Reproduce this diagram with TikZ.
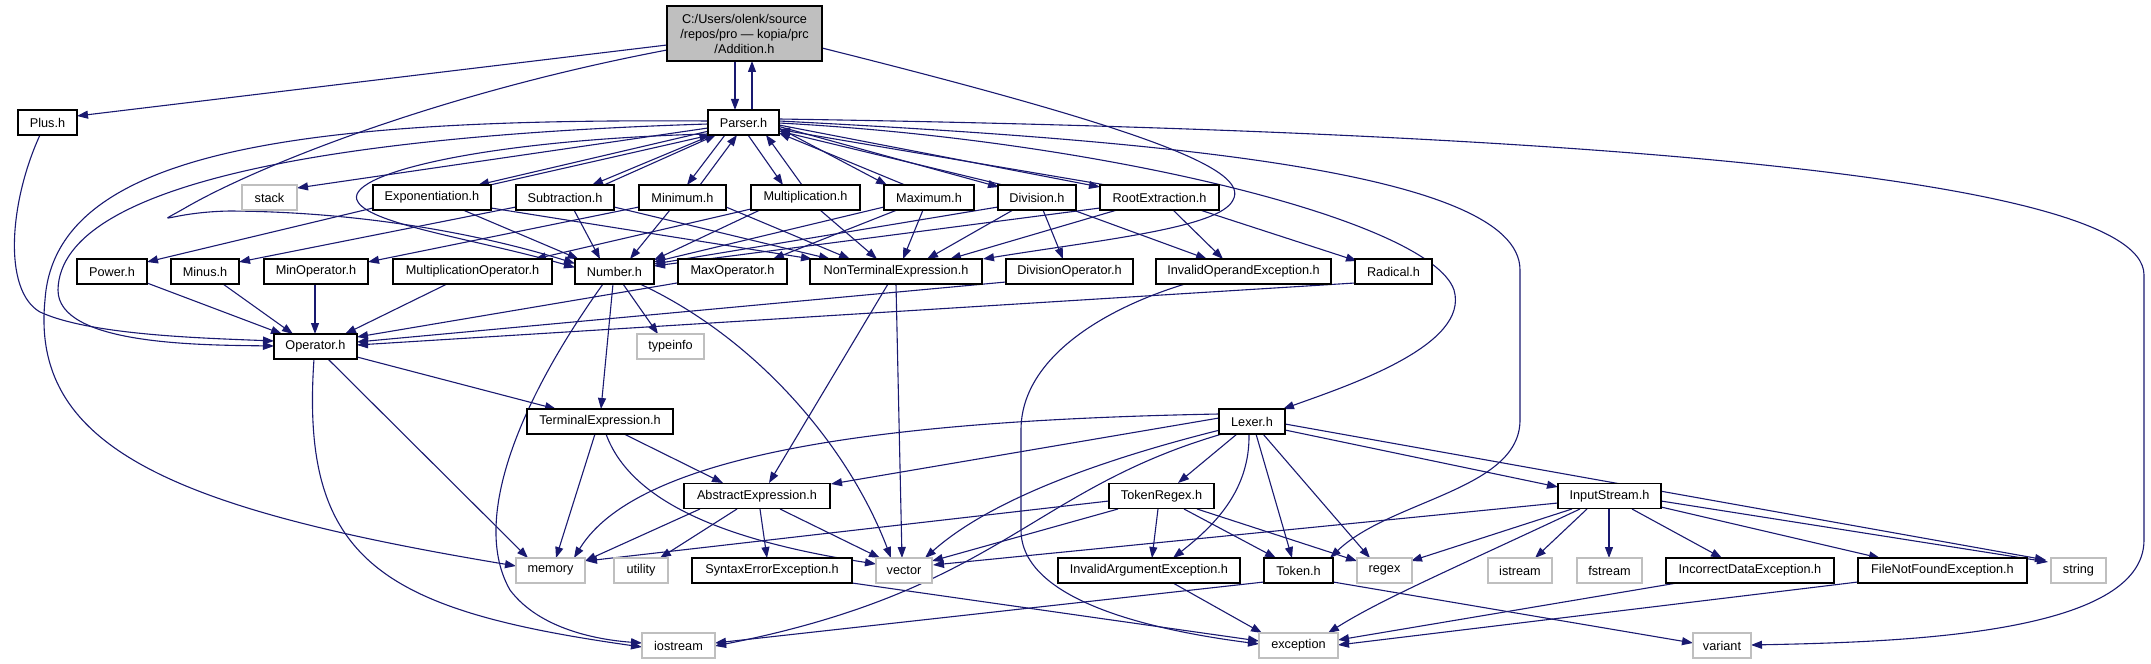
\documentclass[tikz,border=0pt]{standalone}
\usepackage{fontspec}
\setmainfont{Liberation Sans}
\usetikzlibrary{arrows.meta}
\definecolor{edgeblue}{HTML}{191970}
\definecolor{sysborder}{HTML}{BFBFBF}
\definecolor{mainfill}{HTML}{BFBFBF}
\newcommand\nodefnt{\fontsize{12.7bp}{15bp}\selectfont}
\pgfdeclarelayer{bg}
\pgfsetlayers{bg,main}
\tikzset{
  hdr/.style={draw=black, line width=1.2bp, fill=white, minimum height=25bp, inner sep=0pt, font=\nodefnt},
  sys/.style={hdr, draw=sysborder},
  mainhdr/.style={hdr, fill=mainfill, minimum height=55bp, align=center},
  dep/.style={draw=edgeblue, line width=1.1bp, -{Triangle[length=11bp,width=8bp]}}
}
\begin{document}
\begin{tikzpicture}[x=1bp,y=-1bp]
\useasboundingbox (0,0) rectangle (2151,664);
% row A/B
\node[mainhdr, minimum width=155bp] (add) at (744.5,33.5) {C:/Users/olenk/source\\/repos/pro — kopia/prc\\/Addition.h};
\node[hdr, minimum width=59bp] (plus) at (47.5,122.5) {Plus.h};
\node[hdr, minimum width=71bp] (parser) at (743.5,122.5) {Parser.h};
% row C
\node[sys, minimum width=55bp] (stack) at (269.5,197.5) {stack};
\node[hdr, minimum width=118bp] (expo) at (432,197.5) {Exponentiation.h};
\node[hdr, minimum width=98bp] (sub) at (565,197.5) {Subtraction.h};
\node[hdr, minimum width=87bp] (mini) at (682.5,197.5) {Minimum.h};
\node[hdr, minimum width=109bp] (mult) at (805.5,197.5) {Multiplication.h};
\node[hdr, minimum width=90bp] (maxi) at (929,197.5) {Maximum.h};
\node[hdr, minimum width=78bp] (divi) at (1037,197.5) {Division.h};
\node[hdr, minimum width=119bp] (root) at (1159.5,197.5) {RootExtraction.h};
% row D
\node[hdr, minimum width=70bp] (power) at (112,271.5) {Power.h};
\node[hdr, minimum width=68bp] (minus) at (205,271.5) {Minus.h};
\node[hdr, minimum width=104bp] (minop) at (316,271.5) {MinOperator.h};
\node[hdr, minimum width=159bp] (multop) at (472.5,271.5) {MultiplicationOperator.h};
\node[hdr, minimum width=79bp] (number) at (614.5,271.5) {Number.h};
\node[hdr, minimum width=109bp] (maxop) at (732.5,271.5) {MaxOperator.h};
\node[hdr, minimum width=172bp] (nonterm) at (896,271.5) {NonTerminalExpression.h};
\node[hdr, minimum width=127bp] (divop) at (1069.5,271.5) {DivisionOperator.h};
\node[hdr, minimum width=175bp] (invop) at (1243.5,271.5) {InvalidOperandException.h};
\node[hdr, minimum width=77bp] (radical) at (1393.5,271.5) {Radical.h};
% row E/F
\node[hdr, minimum width=83bp] (oper) at (315.5,346.5) {Operator.h};
\node[sys, minimum width=67bp] (typeinfo) at (670.5,346.5) {typeinfo};
\node[hdr, minimum width=146bp] (term) at (600,421.5) {TerminalExpression.h};
\node[hdr, minimum width=66bp] (lexer) at (1252,421.5) {Lexer.h};
% row G
\node[hdr, minimum width=146bp] (abstr) at (757,496) {AbstractExpression.h};
\node[hdr, minimum width=105bp] (tokre) at (1161.5,496) {TokenRegex.h};
\node[hdr, minimum width=103bp] (input) at (1609.5,496) {InputStream.h};
% row H
\node[sys, minimum width=69bp] (memory) at (550.5,570.5) {memory};
\node[sys, minimum width=54bp] (utility) at (641,570.5) {utility};
\node[hdr, minimum width=160bp] (syntax) at (772,570.5) {SyntaxErrorException.h};
\node[sys, minimum width=56bp] (vector) at (904,570.5) {vector};
\node[hdr, minimum width=182bp] (invarg) at (1149,570.5) {InvalidArgumentException.h};
\node[hdr, minimum width=69bp] (token) at (1298.5,570.5) {Token.h};
\node[sys, minimum width=55bp] (regex) at (1384.5,570.5) {regex};
\node[sys, minimum width=64bp] (istream) at (1520,570.5) {istream};
\node[sys, minimum width=65bp] (fstream) at (1609.5,570.5) {fstream};
\node[hdr, minimum width=168bp] (incorr) at (1750,570.5) {IncorrectDataException.h};
\node[hdr, minimum width=169bp] (filenf) at (1942.5,570.5) {FileNotFoundException.h};
\node[sys, minimum width=55bp] (string) at (2078.5,570.5) {string};
% row I
\node[sys, minimum width=73bp] (iostream) at (678.5,645.5) {iostream};
\node[sys, minimum width=79bp] (exception) at (1298.5,645.5) {exception};
\node[sys, minimum width=58bp] (variant) at (1722,645.5) {variant};

\begin{pgfonlayer}{bg}
% Addition.h
\draw[dep] ([shift={(-77.5,11.5)}]add.center) -- ([shift={(29.5,-6.5)}]plus.center);
\draw[dep] ([shift={(-77.5,16.5)}]add.center) .. controls (430,95) and (250,170) .. (185,208) .. controls (150,228) and (170,212) .. (230,211) .. controls (380,212) and (500,240) .. ([shift={(-39.5,-8)}]number.center);
\draw[dep] ([shift={(-9.5,27.5)}]add.center) -- ([shift={(-8.5,-12.5)}]parser.center);
\draw[dep] ([shift={(8.5,-12.5)}]parser.center) -- ([shift={(7.5,27.5)}]add.center);
\draw[dep] ([shift={(77.5,14.5)}]add.center) .. controls (1150,130) and (1250,170) .. (1233,200) .. controls (1220,228) and (1100,240) .. ([shift={(87,-12.5)}]nonterm.center);
% Parser.h
\draw[dep] ([shift={(-35.5,5.5)}]parser.center) -- ([shift={(27.5,-9.5)}]stack.center);
\draw[dep] ([shift={(-35.5,-1.5)}]parser.center) .. controls (300,118) and (55,150) .. (45,300) .. controls (30,450) and (180,510) .. ([shift={(-34.5,-4.5)}]memory.center);
\draw[dep] ([shift={(-35.5,1.5)}]parser.center) .. controls (350,135) and (60,180) .. (58,290) .. controls (58,345) and (200,345) .. ([shift={(-41.5,-0.5)}]oper.center);
\draw[dep] ([shift={(-35.5,11.5)}]parser.center) .. controls (480,140) and (340,175) .. (358,202) .. controls (372,225) and (480,240) .. ([shift={(-39.5,-4)}]number.center);
\draw[dep] ([shift={(-34.5,8.5)}]parser.center) -- ([shift={(46,-12.5)}]expo.center);
\draw[dep] ([shift={(58,-12.5)}]expo.center) -- ([shift={(-33,12.5)}]parser.center);
\draw[dep] ([shift={(-31.5,12.5)}]parser.center) -- ([shift={(27,-12.5)}]sub.center);
\draw[dep] ([shift={(39,-12.5)}]sub.center) -- ([shift={(-27.5,12.5)}]parser.center);
\draw[dep] ([shift={(-18.5,12.5)}]parser.center) -- ([shift={(4.5,-12.5)}]mini.center);
\draw[dep] ([shift={(17.5,-12.5)}]mini.center) -- ([shift={(-6.5,12.5)}]parser.center);
\draw[dep] ([shift={(4.5,12.5)}]parser.center) -- ([shift={(-22.5,-12.5)}]mult.center);
\draw[dep] ([shift={(-3.5,-12.5)}]mult.center) -- ([shift={(22.5,12.5)}]parser.center);
\draw[dep] ([shift={(35.5,5.5)}]parser.center) -- ([shift={(-42,-12.5)}]maxi.center);
\draw[dep] ([shift={(-24,-12.5)}]maxi.center) -- ([shift={(35.5,10.5)}]parser.center);
\draw[dep] ([shift={(35.5,4)}]parser.center) -- ([shift={(-38,-10.5)}]divi.center);
\draw[dep] ([shift={(-34,-12.5)}]divi.center) -- ([shift={(35.5,8.5)}]parser.center);
\draw[dep] ([shift={(35.5,2.5)}]parser.center) -- ([shift={(-59.5,-10.5)}]root.center);
\draw[dep] ([shift={(-53.5,-12.5)}]root.center) -- ([shift={(35.5,7)}]parser.center);
\draw[dep] ([shift={(35.5,-3.5)}]parser.center) .. controls (1500,130) and (2144,170) .. (2144,275) -- (2144,540) .. controls (2144,635) and (1900,642) .. ([shift={(29,-0.5)}]variant.center);
\draw[dep] ([shift={(35.5,-1.5)}]parser.center) .. controls (1150,140) and (1520,170) .. (1520,270) -- (1520,420) .. controls (1520,490) and (1390,500) .. ([shift={(31.5,-12.5)}]token.center);
\draw[dep] ([shift={(35.5,0.5)}]parser.center) .. controls (1100,140) and (1430,220) .. (1454,290) .. controls (1470,345) and (1350,385) .. ([shift={(31,-12.5)}]lexer.center);
% row C children
\draw[dep] ([shift={(31,12.5)}]expo.center) -- ([shift={(-36,-12.5)}]number.center);
\draw[dep] ([shift={(59,10.5)}]expo.center) -- ([shift={(-84,-12.5)}]nonterm.center);
\draw[dep] ([shift={(-59,10.5)}]expo.center) -- ([shift={(35,-9.5)}]power.center);
\draw[dep] ([shift={(9,12.5)}]sub.center) -- ([shift={(-14.5,-12.5)}]number.center);
\draw[dep] ([shift={(49,9.5)}]sub.center) -- ([shift={(-66,-12.5)}]nonterm.center);
\draw[dep] ([shift={(-49,9.5)}]sub.center) -- ([shift={(34,-9.5)}]minus.center);
\draw[dep] ([shift={(-12.5,12.5)}]mini.center) -- ([shift={(15.5,-12.5)}]number.center);
\draw[dep] ([shift={(43.5,9.5)}]mini.center) -- ([shift={(-46,-12.5)}]nonterm.center);
\draw[dep] ([shift={(-43.5,9.5)}]mini.center) -- ([shift={(52,-9.5)}]minop.center);
\draw[dep] ([shift={(-45.5,12.5)}]mult.center) -- ([shift={(39.5,-11.5)}]number.center);
\draw[dep] ([shift={(14.5,12.5)}]mult.center) -- ([shift={(-19,-12.5)}]nonterm.center);
\draw[dep] ([shift={(-54.5,11.5)}]mult.center) -- ([shift={(62.5,-12.5)}]multop.center);
\draw[dep] ([shift={(-45,9.5)}]maxi.center) -- ([shift={(39.5,-9.5)}]number.center);
\draw[dep] ([shift={(-6,12.5)}]maxi.center) -- ([shift={(7,-12.5)}]nonterm.center);
\draw[dep] ([shift={(-32,12.5)}]maxi.center) -- ([shift={(40.5,-12.5)}]maxop.center);
\draw[dep] ([shift={(-39,9.5)}]divi.center) -- ([shift={(39.5,-7.5)}]number.center);
\draw[dep] ([shift={(-24,12.5)}]divi.center) -- ([shift={(31,-12.5)}]nonterm.center);
\draw[dep] ([shift={(6,12.5)}]divi.center) -- ([shift={(-6.5,-12.5)}]divop.center);
\draw[dep] ([shift={(36,12.5)}]divi.center) -- ([shift={(-36.5,-12.5)}]invop.center);
\draw[dep] ([shift={(-59.5,10.5)}]root.center) -- ([shift={(39.5,-5.5)}]number.center);
\draw[dep] ([shift={(-42.5,12.5)}]root.center) -- ([shift={(54,-12.5)}]nonterm.center);
\draw[dep] ([shift={(13.5,12.5)}]root.center) -- ([shift={(-20.5,-12.5)}]invop.center);
\draw[dep] ([shift={(40.5,12.5)}]root.center) -- ([shift={(-36.5,-10.5)}]radical.center);
% operators
\draw[dep] ([shift={(-7.5,12.5)}]plus.center) .. controls (10,200) and (2,290) .. (40,312) .. controls (90,335) and (200,338) .. ([shift={(-41.5,-5.5)}]oper.center);
\draw[dep] ([shift={(35,11.5)}]power.center) -- ([shift={(-33.5,-12.5)}]oper.center);
\draw[dep] ([shift={(18,12.5)}]minus.center) -- ([shift={(-22.5,-12.5)}]oper.center);
\draw[dep] ([shift={(-1,12.5)}]minop.center) -- ([shift={(-0.5,-12.5)}]oper.center);
\draw[dep] ([shift={(-25.5,12.5)}]multop.center) -- ([shift={(29.5,-12.5)}]oper.center);
\draw[dep] ([shift={(-55.5,11.5)}]maxop.center) -- ([shift={(41.5,-9.5)}]oper.center);
\draw[dep] ([shift={(-63.5,10.5)}]divop.center) -- ([shift={(41.5,-4.5)}]oper.center);
\draw[dep] ([shift={(-38.5,11.5)}]radical.center) -- ([shift={(41.5,-1.5)}]oper.center);
% Number.h, Operator.h
\draw[dep] ([shift={(-1.5,12.5)}]number.center) -- ([shift={(1,-12.5)}]term.center);
\draw[dep] ([shift={(8.5,12.5)}]number.center) -- ([shift={(-12.5,-12.5)}]typeinfo.center);
\draw[dep] ([shift={(-11.5,12.5)}]number.center) .. controls (520,400) and (470,520) .. (510,590) .. controls (540,630) and (600,640) .. ([shift={(-36.5,-2.5)}]iostream.center);
\draw[dep] ([shift={(25.5,12.5)}]number.center) .. controls (760,340) and (850,450) .. ([shift={(-13,-12.5)}]vector.center);
\draw[dep] ([shift={(41.5,10.5)}]oper.center) -- ([shift={(-44,-12.5)}]term.center);
\draw[dep] ([shift={(12.5,12.5)}]oper.center) -- ([shift={(-22.5,-12.5)}]memory.center);
\draw[dep] ([shift={(-1.5,12.5)}]oper.center) .. controls (300,560) and (380,610) .. ([shift={(-36.5,1.5)}]iostream.center);
% TerminalExpression, AbstractExpression, NonTerminalExpression
\draw[dep] ([shift={(-5,12.5)}]term.center) -- ([shift={(5.5,-12.5)}]memory.center);
\draw[dep] ([shift={(6,12.5)}]term.center) .. controls (630,500) and (720,540) .. ([shift={(-28,-6.5)}]vector.center);
\draw[dep] ([shift={(24,12.5)}]term.center) -- ([shift={(-34,-13)}]abstr.center);
\draw[dep] ([shift={(-57,13)}]abstr.center) -- ([shift={(34.5,-9.5)}]memory.center);
\draw[dep] ([shift={(-20,13)}]abstr.center) -- ([shift={(19,-12.5)}]utility.center);
\draw[dep] ([shift={(3,13)}]abstr.center) -- ([shift={(-5,-12.5)}]syntax.center);
\draw[dep] ([shift={(23,13)}]abstr.center) -- ([shift={(-24,-12.5)}]vector.center);
\draw[dep] ([shift={(-8,12.5)}]nonterm.center) -- ([shift={(12,-13)}]abstr.center);
\draw[dep] ([shift={(0,12.5)}]nonterm.center) -- ([shift={(-2,-12.5)}]vector.center);
% Lexer.h
\draw[dep] ([shift={(-33,-7.5)}]lexer.center) .. controls (900,420) and (640,450) .. ([shift={(23.5,-12.5)}]memory.center);
\draw[dep] ([shift={(-33,-3.5)}]lexer.center) -- ([shift={(74,-12)}]abstr.center);
\draw[dep] ([shift={(-32,8.5)}]lexer.center) .. controls (1100,460) and (990,500) .. ([shift={(21,-12.5)}]vector.center);
\draw[dep] ([shift={(-30,12.5)}]lexer.center) .. controls (1030,490) and (1000,590) .. ([shift={(36.5,0.5)}]iostream.center);
\draw[dep] ([shift={(-15,12.5)}]lexer.center) -- ([shift={(16.5,-13)}]tokre.center);
\draw[dep] ([shift={(-3,12.5)}]lexer.center) .. controls (1250,490) and (1215,525) .. ([shift={(24,-12.5)}]invarg.center);
\draw[dep] ([shift={(4,12.5)}]lexer.center) -- ([shift={(-6.5,-12.5)}]token.center);
\draw[dep] ([shift={(11,12.5)}]lexer.center) -- ([shift={(-14.5,-12.5)}]regex.center);
\draw[dep] ([shift={(33,8.5)}]lexer.center) -- ([shift={(-51.5,-9)}]input.center);
\draw[dep] ([shift={(33,2.5)}]lexer.center) -- ([shift={(-32.5,-10.5)}]string.center);
% TokenRegex.h
\draw[dep] ([shift={(-52.5,5)}]tokre.center) -- ([shift={(35.5,-9.5)}]memory.center);
\draw[dep] ([shift={(-43.5,13)}]tokre.center) -- ([shift={(28,-9.5)}]vector.center);
\draw[dep] ([shift={(-3.5,13)}]tokre.center) -- ([shift={(3,-12.5)}]invarg.center);
\draw[dep] ([shift={(22.5,13)}]tokre.center) -- ([shift={(-22.5,-12.5)}]token.center);
\draw[dep] ([shift={(35.5,13)}]tokre.center) -- ([shift={(-27.5,-9.5)}]regex.center);
% InputStream.h
\draw[dep] ([shift={(-51.5,7)}]input.center) -- ([shift={(29,-5.5)}]vector.center);
\draw[dep] ([shift={(-37.5,13)}]input.center) -- ([shift={(26.5,-9.5)}]regex.center);
\draw[dep] ([shift={(-29.5,13)}]input.center) .. controls (1450,570) and (1380,600) .. ([shift={(29.5,-12.5)}]exception.center);
\draw[dep] ([shift={(-22.5,13)}]input.center) -- ([shift={(15,-12.5)}]istream.center);
\draw[dep] ([shift={(-0.5,13)}]input.center) -- ([shift={(-0.5,-12.5)}]fstream.center);
\draw[dep] ([shift={(22.5,13)}]input.center) -- ([shift={(-28,-12.5)}]incorr.center);
\draw[dep] ([shift={(51.5,11)}]input.center) -- ([shift={(-62.5,-12.5)}]filenf.center);
\draw[dep] ([shift={(51.5,5)}]input.center) -- ([shift={(-30.5,-8.5)}]string.center);
% exceptions, tokens
\draw[dep] ([shift={(-73,12.5)}]incorr.center) -- ([shift={(39.5,-5.5)}]exception.center);
\draw[dep] ([shift={(-84.5,11.5)}]filenf.center) -- ([shift={(39.5,-0.5)}]exception.center);
\draw[dep] ([shift={(24,12.5)}]invarg.center) -- ([shift={(-36.5,-12.5)}]exception.center);
\draw[dep] ([shift={(80,12.5)}]syntax.center) -- ([shift={(-39.5,-4.5)}]exception.center);
\draw[dep] ([shift={(-34.5,11.5)}]token.center) -- ([shift={(36.5,-2.5)}]iostream.center);
\draw[dep] ([shift={(34.5,11.5)}]token.center) -- ([shift={(-29,-2.5)}]variant.center);
\draw[dep] ([shift={(-58.5,12.5)}]invop.center) .. controls (1100,310) and (1021,360) .. (1021,430) -- (1021,530) .. controls (1021,600) and (1150,630) .. ([shift={(-39.5,-1.5)}]exception.center);
\end{pgfonlayer}
\end{tikzpicture}
\end{document}
